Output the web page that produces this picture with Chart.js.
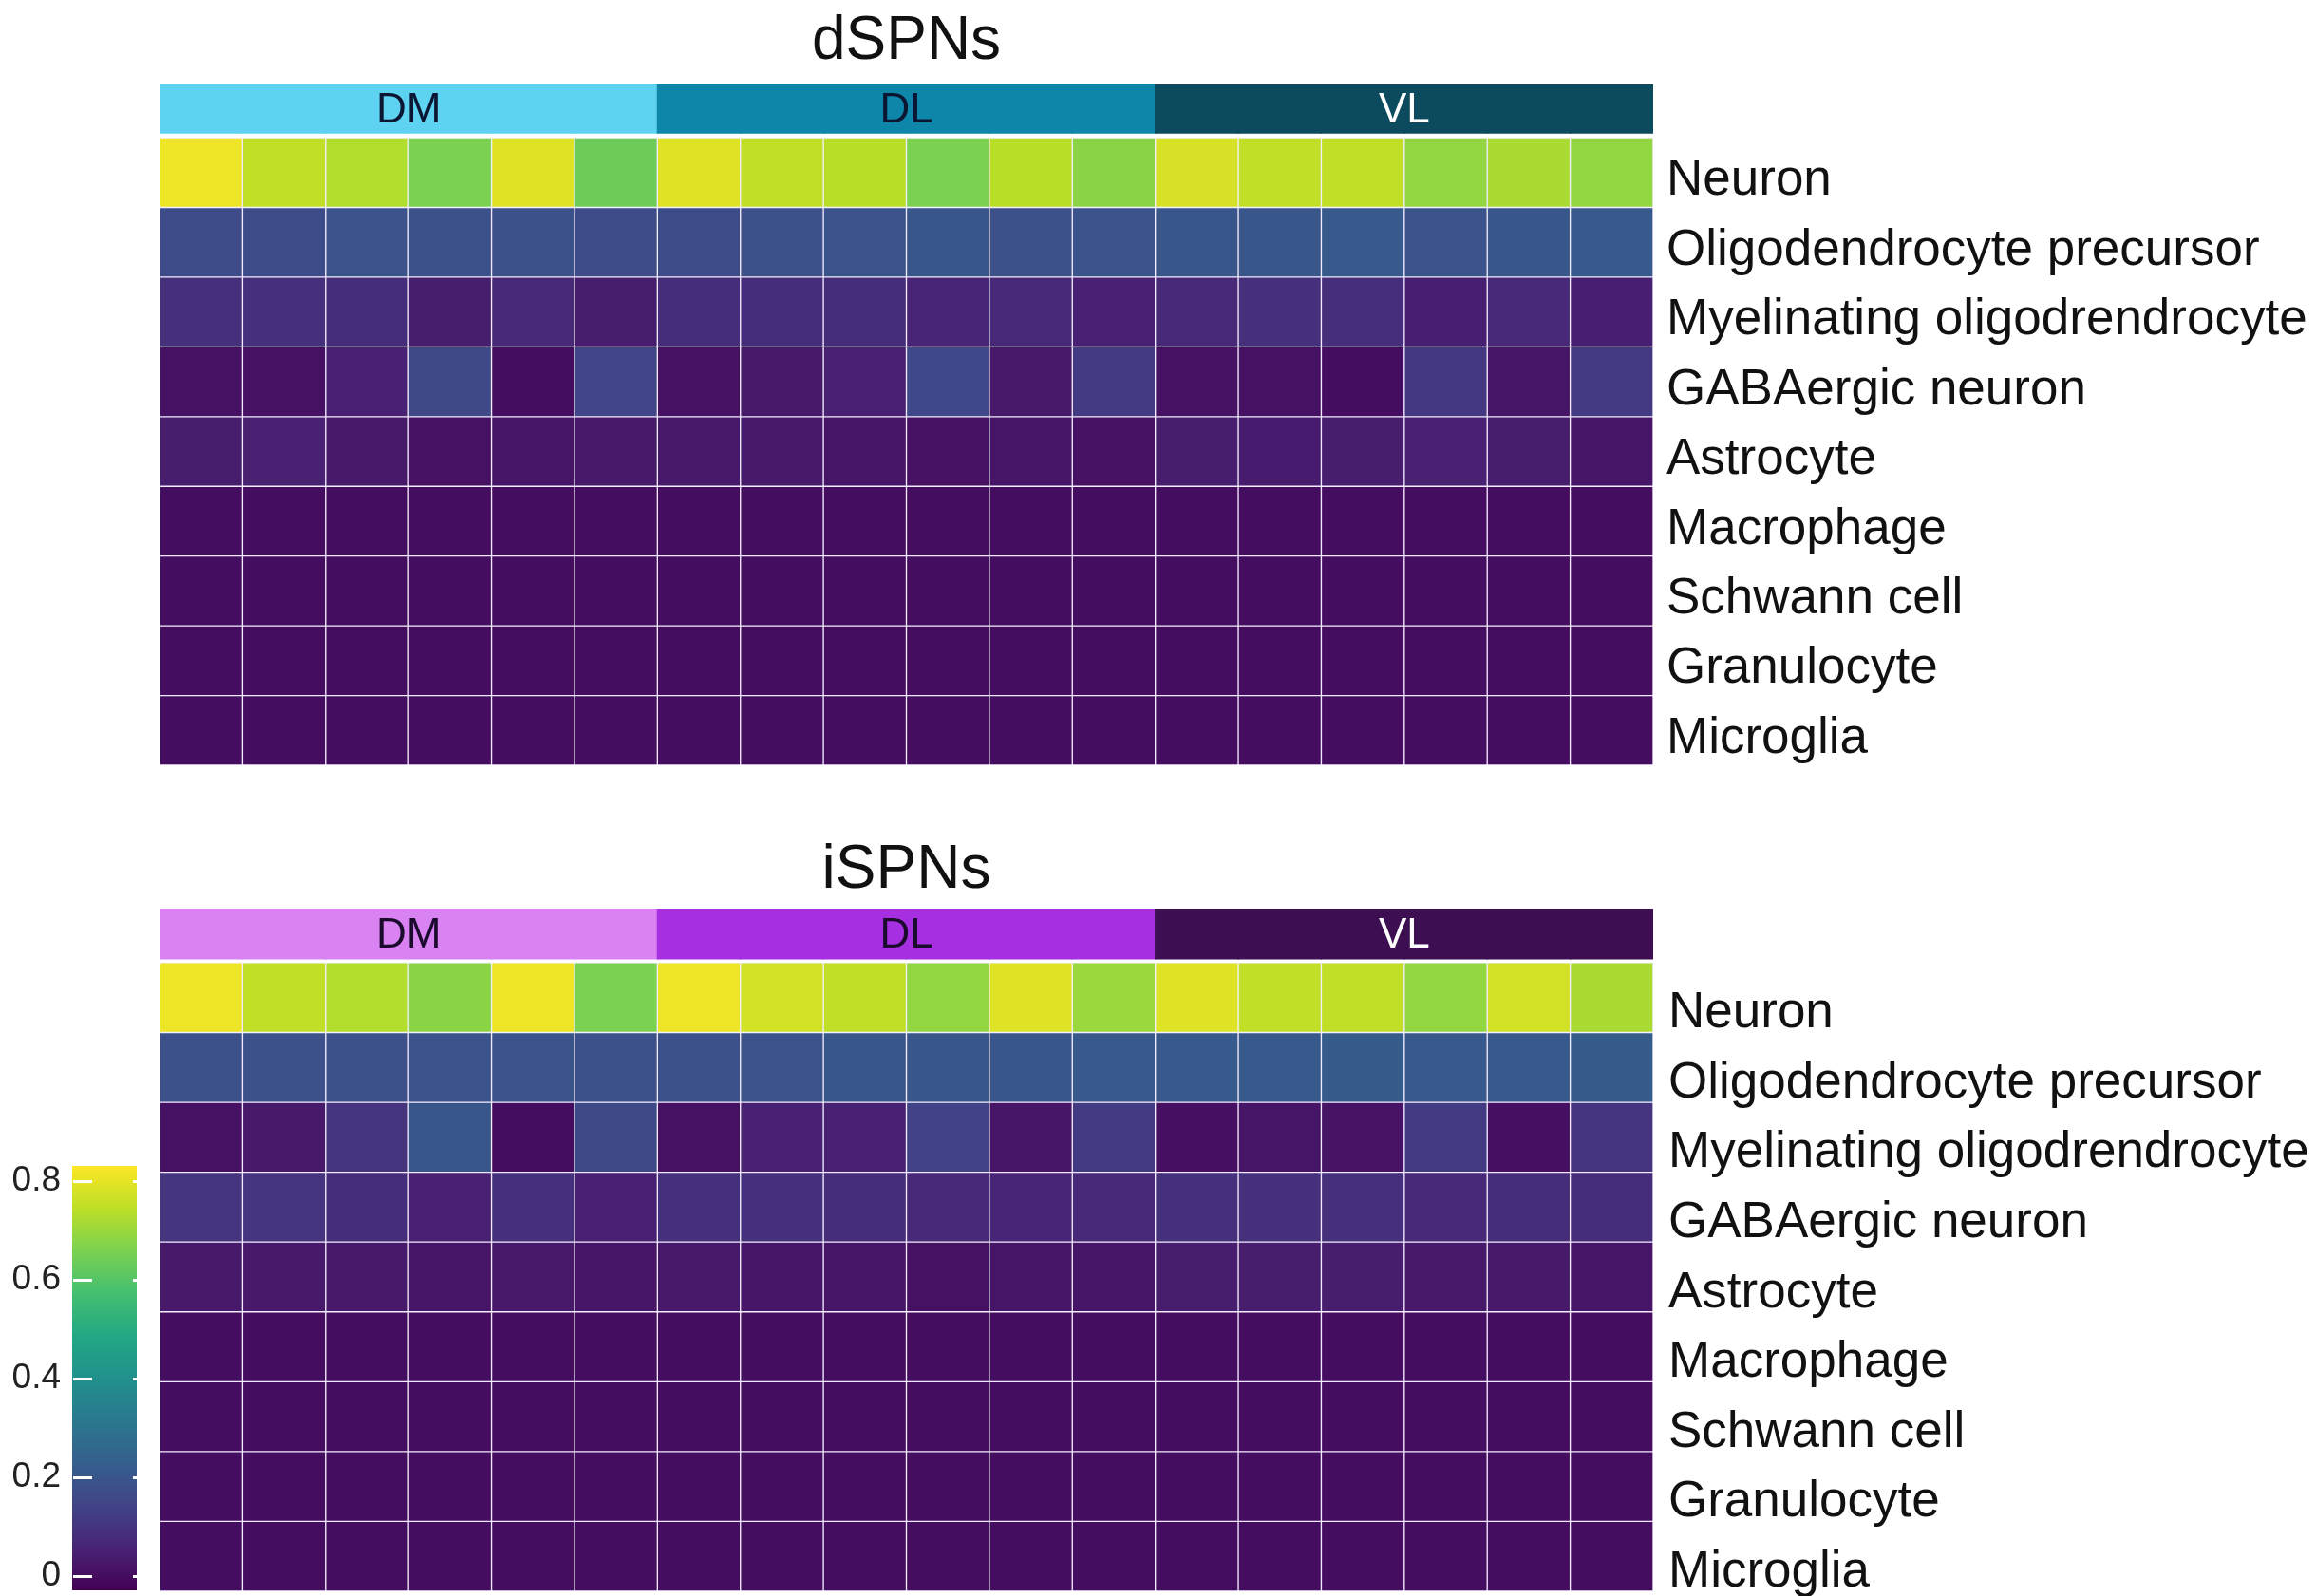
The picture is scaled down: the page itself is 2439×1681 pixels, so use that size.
<!DOCTYPE html>
<html>
  <head>
    <title>dSPNs / iSPNs cell type heatmap</title>
    <style>
      body {
        margin: 0;
        background: #fff;
      }
      .panel {
        position: absolute;
      }
    </style>
  </head>
  <body>
    <div class="panel" id="top-wrap" style="left:0;top:0;width:2439px;height:830px">
      <canvas id="dspn-chart"></canvas>
    </div>
    <div class="panel" id="bottom-wrap" style="left:0;top:870px;width:2439px;height:811px">
      <canvas id="ispn-chart"></canvas>
    </div>
    <div class="panel" id="bar-wrap" style="left:0;top:1200px;width:160px;height:481px">
      <canvas id="colorbar"></canvas>
    </div>

    <script src="https://cdn.jsdelivr.net/npm/chart.js"></script>
    <script>
      // Data
      var cellTypes = [
        "Neuron",
        "Oligodendrocyte precursor",
        "Myelinating oligodrendrocyte",
        "GABAergic neuron",
        "Astrocyte",
        "Macrophage",
        "Schwann cell",
        "Granulocyte",
        "Microglia",
      ]
      var regions = ["DM", "DL", "VL"]
      var samples = [
        "DM1", "DM2", "DM3", "DM4", "DM5", "DM6",
        "DL1", "DL2", "DL3", "DL4", "DL5", "DL6",
        "VL1", "VL2", "VL3", "VL4", "VL5", "VL6",
      ]

      // dSPNs, one array per cell type (18 samples each)
      var dNeuron = [0.81, 0.75, 0.73, 0.66, 0.79, 0.64, 0.79, 0.75, 0.74, 0.66, 0.74, 0.68, 0.78, 0.75, 0.75, 0.69, 0.72, 0.69]
      var dOpc = [0.17, 0.17, 0.19, 0.18, 0.18, 0.17, 0.17, 0.18, 0.19, 0.20, 0.18, 0.19, 0.20, 0.20, 0.21, 0.19, 0.20, 0.21]
      var dMyel = [0.09, 0.09, 0.08, 0.04, 0.07, 0.04, 0.08, 0.08, 0.08, 0.06, 0.07, 0.05, 0.07, 0.09, 0.085, 0.045, 0.07, 0.045]
      var dGaba = [0.01, 0.01, 0.05, 0.16, 0.0, 0.15, 0.01, 0.03, 0.05, 0.155, 0.03, 0.12, 0.01, 0.01, 0.0, 0.11, 0.02, 0.115]
      var dAstro = [0.04, 0.05, 0.03, 0.01, 0.02, 0.03, 0.03, 0.03, 0.02, 0.01, 0.02, 0.01, 0.04, 0.035, 0.04, 0.05, 0.04, 0.02]
      var dMacro = [0, 0, 0, 0, 0, 0, 0, 0, 0, 0, 0, 0, 0, 0, 0, 0, 0, 0]
      var dSchwann = [0, 0, 0, 0, 0, 0, 0, 0, 0, 0, 0, 0, 0, 0, 0, 0, 0, 0]
      var dGranulo = [0, 0, 0, 0, 0, 0, 0, 0, 0, 0, 0, 0, 0, 0, 0, 0, 0, 0]
      var dMicro = [0, 0, 0, 0, 0, 0, 0, 0, 0, 0, 0, 0, 0, 0, 0, 0, 0, 0]

      // iSPNs
      var iNeuron = [0.81, 0.75, 0.73, 0.68, 0.81, 0.66, 0.81, 0.77, 0.75, 0.69, 0.79, 0.70, 0.79, 0.75, 0.75, 0.69, 0.77, 0.72]
      var iOpc = [0.18, 0.18, 0.18, 0.19, 0.19, 0.18, 0.18, 0.19, 0.20, 0.20, 0.20, 0.21, 0.21, 0.21, 0.22, 0.21, 0.21, 0.22]
      var iMyel = [0.01, 0.03, 0.10, 0.20, 0.0, 0.16, 0.01, 0.05, 0.05, 0.14, 0.02, 0.12, 0.005, 0.02, 0.015, 0.12, 0.005, 0.10]
      var iGaba = [0.10, 0.10, 0.08, 0.05, 0.09, 0.05, 0.09, 0.09, 0.08, 0.07, 0.06, 0.07, 0.09, 0.09, 0.09, 0.07, 0.08, 0.08]
      var iAstro = [0.03, 0.03, 0.03, 0.02, 0.03, 0.02, 0.03, 0.02, 0.02, 0.01, 0.02, 0.02, 0.04, 0.04, 0.04, 0.03, 0.03, 0.02]
      var iMacro = [0, 0, 0, 0, 0, 0, 0, 0, 0, 0, 0, 0, 0, 0, 0, 0, 0, 0]
      var iSchwann = [0, 0, 0, 0, 0, 0, 0, 0, 0, 0, 0, 0, 0, 0, 0, 0, 0, 0]
      var iGranulo = [0, 0, 0, 0, 0, 0, 0, 0, 0, 0, 0, 0, 0, 0, 0, 0, 0, 0]
      var iMicro = [0, 0, 0, 0, 0, 0, 0, 0, 0, 0, 0, 0, 0, 0, 0, 0, 0, 0]

      // colour scale limits and legend ticks
      var colorMin = -0.029
      var colorMax = 0.831
      var legendTicks = [0, 0.2, 0.4, 0.6, 0.8]

      var dRows = [dNeuron, dOpc, dMyel, dGaba, dAstro, dMacro, dSchwann, dGranulo, dMicro]
      var iRows = [iNeuron, iOpc, iMyel, iGaba, iAstro, iMacro, iSchwann, iGranulo, iMicro]

      // viridis
      var VIRIDIS = ["#440154", "#482475", "#414487", "#355f8d", "#2a788e", "#21918c", "#22a884", "#44bf70", "#7ad151", "#bddf26", "#fde725"]

      function hexToRgb(h) {
        return [parseInt(h.slice(1, 3), 16), parseInt(h.slice(3, 5), 16), parseInt(h.slice(5, 7), 16)]
      }

      function viridis(t) {
        t = Math.max(0, Math.min(1, t))
        var p = t * (VIRIDIS.length - 1)
        var i = Math.min(Math.floor(p), VIRIDIS.length - 2)
        var f = p - i
        var a = hexToRgb(VIRIDIS[i])
        var b = hexToRgb(VIRIDIS[i + 1])
        var c = a.map(function (v, k) {
          return Math.round(v + (b[k] - v) * f)
        })
        return "rgb(" + c.join(",") + ")"
      }

      function valueColor(v) {
        return viridis((v - colorMin) / (colorMax - colorMin))
      }

      // Chart.js reserves half a label above/below a vertical axis; the
      // labels here sit at row centres so that room is not needed
      function noAxisPadding(scale) {
        scale.paddingTop = 0
        scale.paddingBottom = 0
      }

      Chart.defaults.font.family = "'Liberation Sans', Arial, sans-serif"
      Chart.defaults.color = "#111"

      // draws DM / DL / VL on the annotation strip
      var groupLabelPlugin = {
        id: "groupLabels",
        afterDatasetsDraw: function (chart, args, opts) {
          var ctx = chart.ctx
          var x = chart.scales.x
          var y = chart.scales.y
          var yc = y.getPixelForValue((opts.top + opts.bottom) / 2)
          ctx.save()
          ctx.font = "44px 'Liberation Sans', Arial, sans-serif"
          ctx.textAlign = "center"
          ctx.textBaseline = "middle"
          regions.forEach(function (g, gi) {
            var first = x.getPixelForValue(gi * 6)
            var last = x.getPixelForValue(gi * 6 + 5)
            ctx.fillStyle = opts.textColors[gi]
            ctx.fillText(g, (first + last) / 2, yc + 2)
          })
          ctx.restore()
        },
      }

      function makeHeatmap(canvasId, title, rows, groupColors, textColors, yMin, annBottom, pad) {
        var datasets = []
        var annColors = samples.map(function (s, i) {
          return groupColors[Math.floor(i / 6)]
        })
        datasets.push({
          label: "region",
          data: samples.map(function () {
            return [yMin, annBottom]
          }),
          backgroundColor: annColors,
          borderColor: annColors,
          borderWidth: 0,
          inflateAmount: 0.6,
        })
        rows.forEach(function (vals, r) {
          datasets.push({
            label: cellTypes[r],
            data: vals.map(function () {
              return [r, r + 1]
            }),
            backgroundColor: vals.map(valueColor),
            borderColor: "rgba(225, 205, 255, 0.3)",
            borderWidth: 1,
            borderSkipped: false,
          })
        })

        return new Chart(document.getElementById(canvasId).getContext("2d"), {
          type: "bar",
          data: { labels: samples, datasets: datasets },
          plugins: [groupLabelPlugin],
          options: {
            responsive: true,
            maintainAspectRatio: false,
            animation: false,
            layout: { padding: pad.layout },
            datasets: {
              bar: { grouped: false, barPercentage: 1, categoryPercentage: 1 },
            },
            scales: {
              x: { display: false },
              y: {
                type: "linear",
                position: "right",
                reverse: true,
                min: yMin,
                max: cellTypes.length,
                afterBuildTicks: function (scale) {
                  scale.ticks = cellTypes.map(function (c, i) {
                    return { value: i + 0.5 }
                  })
                },
                afterFit: function (scale) {
                  scale.width = pad.axisWidth
                  noAxisPadding(scale)
                },
                grid: { display: false, drawTicks: false },
                border: { display: false },
                ticks: {
                  autoSkip: false,
                  padding: pad.labelGap,
                  labelOffset: pad.labelShift,
                  color: "#111",
                  font: { size: 53 },
                  callback: function (v, i) {
                    return cellTypes[i]
                  },
                },
              },
            },
            plugins: {
              legend: { display: false },
              tooltip: { enabled: false },
              title: {
                display: true,
                text: title,
                fullSize: false,
                color: "#111",
                font: { size: 64, weight: "normal", lineHeight: 1.2 },
                padding: pad.title,
              },
              groupLabels: { top: yMin, bottom: annBottom, textColors: textColors },
            },
          },
        })
      }

      makeHeatmap(
        "dspn-chart",
        "dSPNs",
        dRows,
        ["#5dd3f1", "#0e86aa", "#0c4a5d"],
        ["#0b1632", "#0b1632", "#ffffff"],
        -0.763,
        -0.068,
        { layout: { left: 168, right: 0, top: 6, bottom: 24 }, axisWidth: 698, labelGap: 14, labelShift: 9, title: { top: 0, bottom: 6.2 } }
      )

      makeHeatmap(
        "ispn-chart",
        "iSPNs",
        iRows,
        ["#d982f2", "#a72fe2", "#3d0e52"],
        ["#1a0a2c", "#1a0a2c", "#ffffff"],
        -0.774,
        -0.054,
        { layout: { left: 168, right: 0, top: 9, bottom: 5 }, axisWidth: 698, labelGap: 16, labelShift: 17, title: { top: 0, bottom: 1.2 } }
      )

      // colour legend
      var legendTickPlugin = {
        id: "legendTicks",
        afterDatasetsDraw: function (chart) {
          var ctx = chart.ctx
          var a = chart.chartArea
          var y = chart.scales.y
          ctx.save()
          ctx.strokeStyle = "#ffffff"
          ctx.lineWidth = 3
          legendTicks.forEach(function (t) {
            var py = Math.round(y.getPixelForValue(t)) + 0.5
            ctx.beginPath()
            ctx.moveTo(a.left + 1, py)
            ctx.lineTo(a.left + 21, py)
            ctx.moveTo(a.right - 4, py)
            ctx.lineTo(a.right, py)
            ctx.stroke()
          })
          ctx.restore()
        },
      }

      new Chart(document.getElementById("colorbar").getContext("2d"), {
        type: "bar",
        data: {
          labels: ["scale"],
          datasets: [
            {
              data: [[colorMin, colorMax]],
              barPercentage: 1,
              categoryPercentage: 1,
              borderWidth: 0,
              backgroundColor: function (c) {
                var area = c.chart.chartArea
                if (!area) return VIRIDIS[0]
                var g = c.chart.ctx.createLinearGradient(0, area.bottom, 0, area.top)
                VIRIDIS.forEach(function (col, i) {
                  g.addColorStop(i / (VIRIDIS.length - 1), col)
                })
                return g
              },
            },
          ],
        },
        plugins: [legendTickPlugin],
        options: {
          responsive: true,
          maintainAspectRatio: false,
          animation: false,
          layout: { padding: { left: 0, right: 16, top: 28, bottom: 6 } },
          scales: {
            x: { display: false },
            y: {
              type: "linear",
              min: colorMin,
              max: colorMax,
              afterBuildTicks: function (scale) {
                scale.ticks = legendTicks.map(function (t) {
                  return { value: t }
                })
              },
              afterFit: function (scale) {
                scale.width = 76
                noAxisPadding(scale)
              },
              grid: { display: false, drawTicks: false },
              border: { display: false },
              ticks: {
                padding: 12,
                color: "#222",
                font: { size: 37 },
                callback: function (v) {
                  return v === 0 ? "0" : v.toFixed(1)
                },
              },
            },
          },
          plugins: {
            legend: { display: false },
            tooltip: { enabled: false },
          },
        },
      })
    </script>
  </body>
</html>
